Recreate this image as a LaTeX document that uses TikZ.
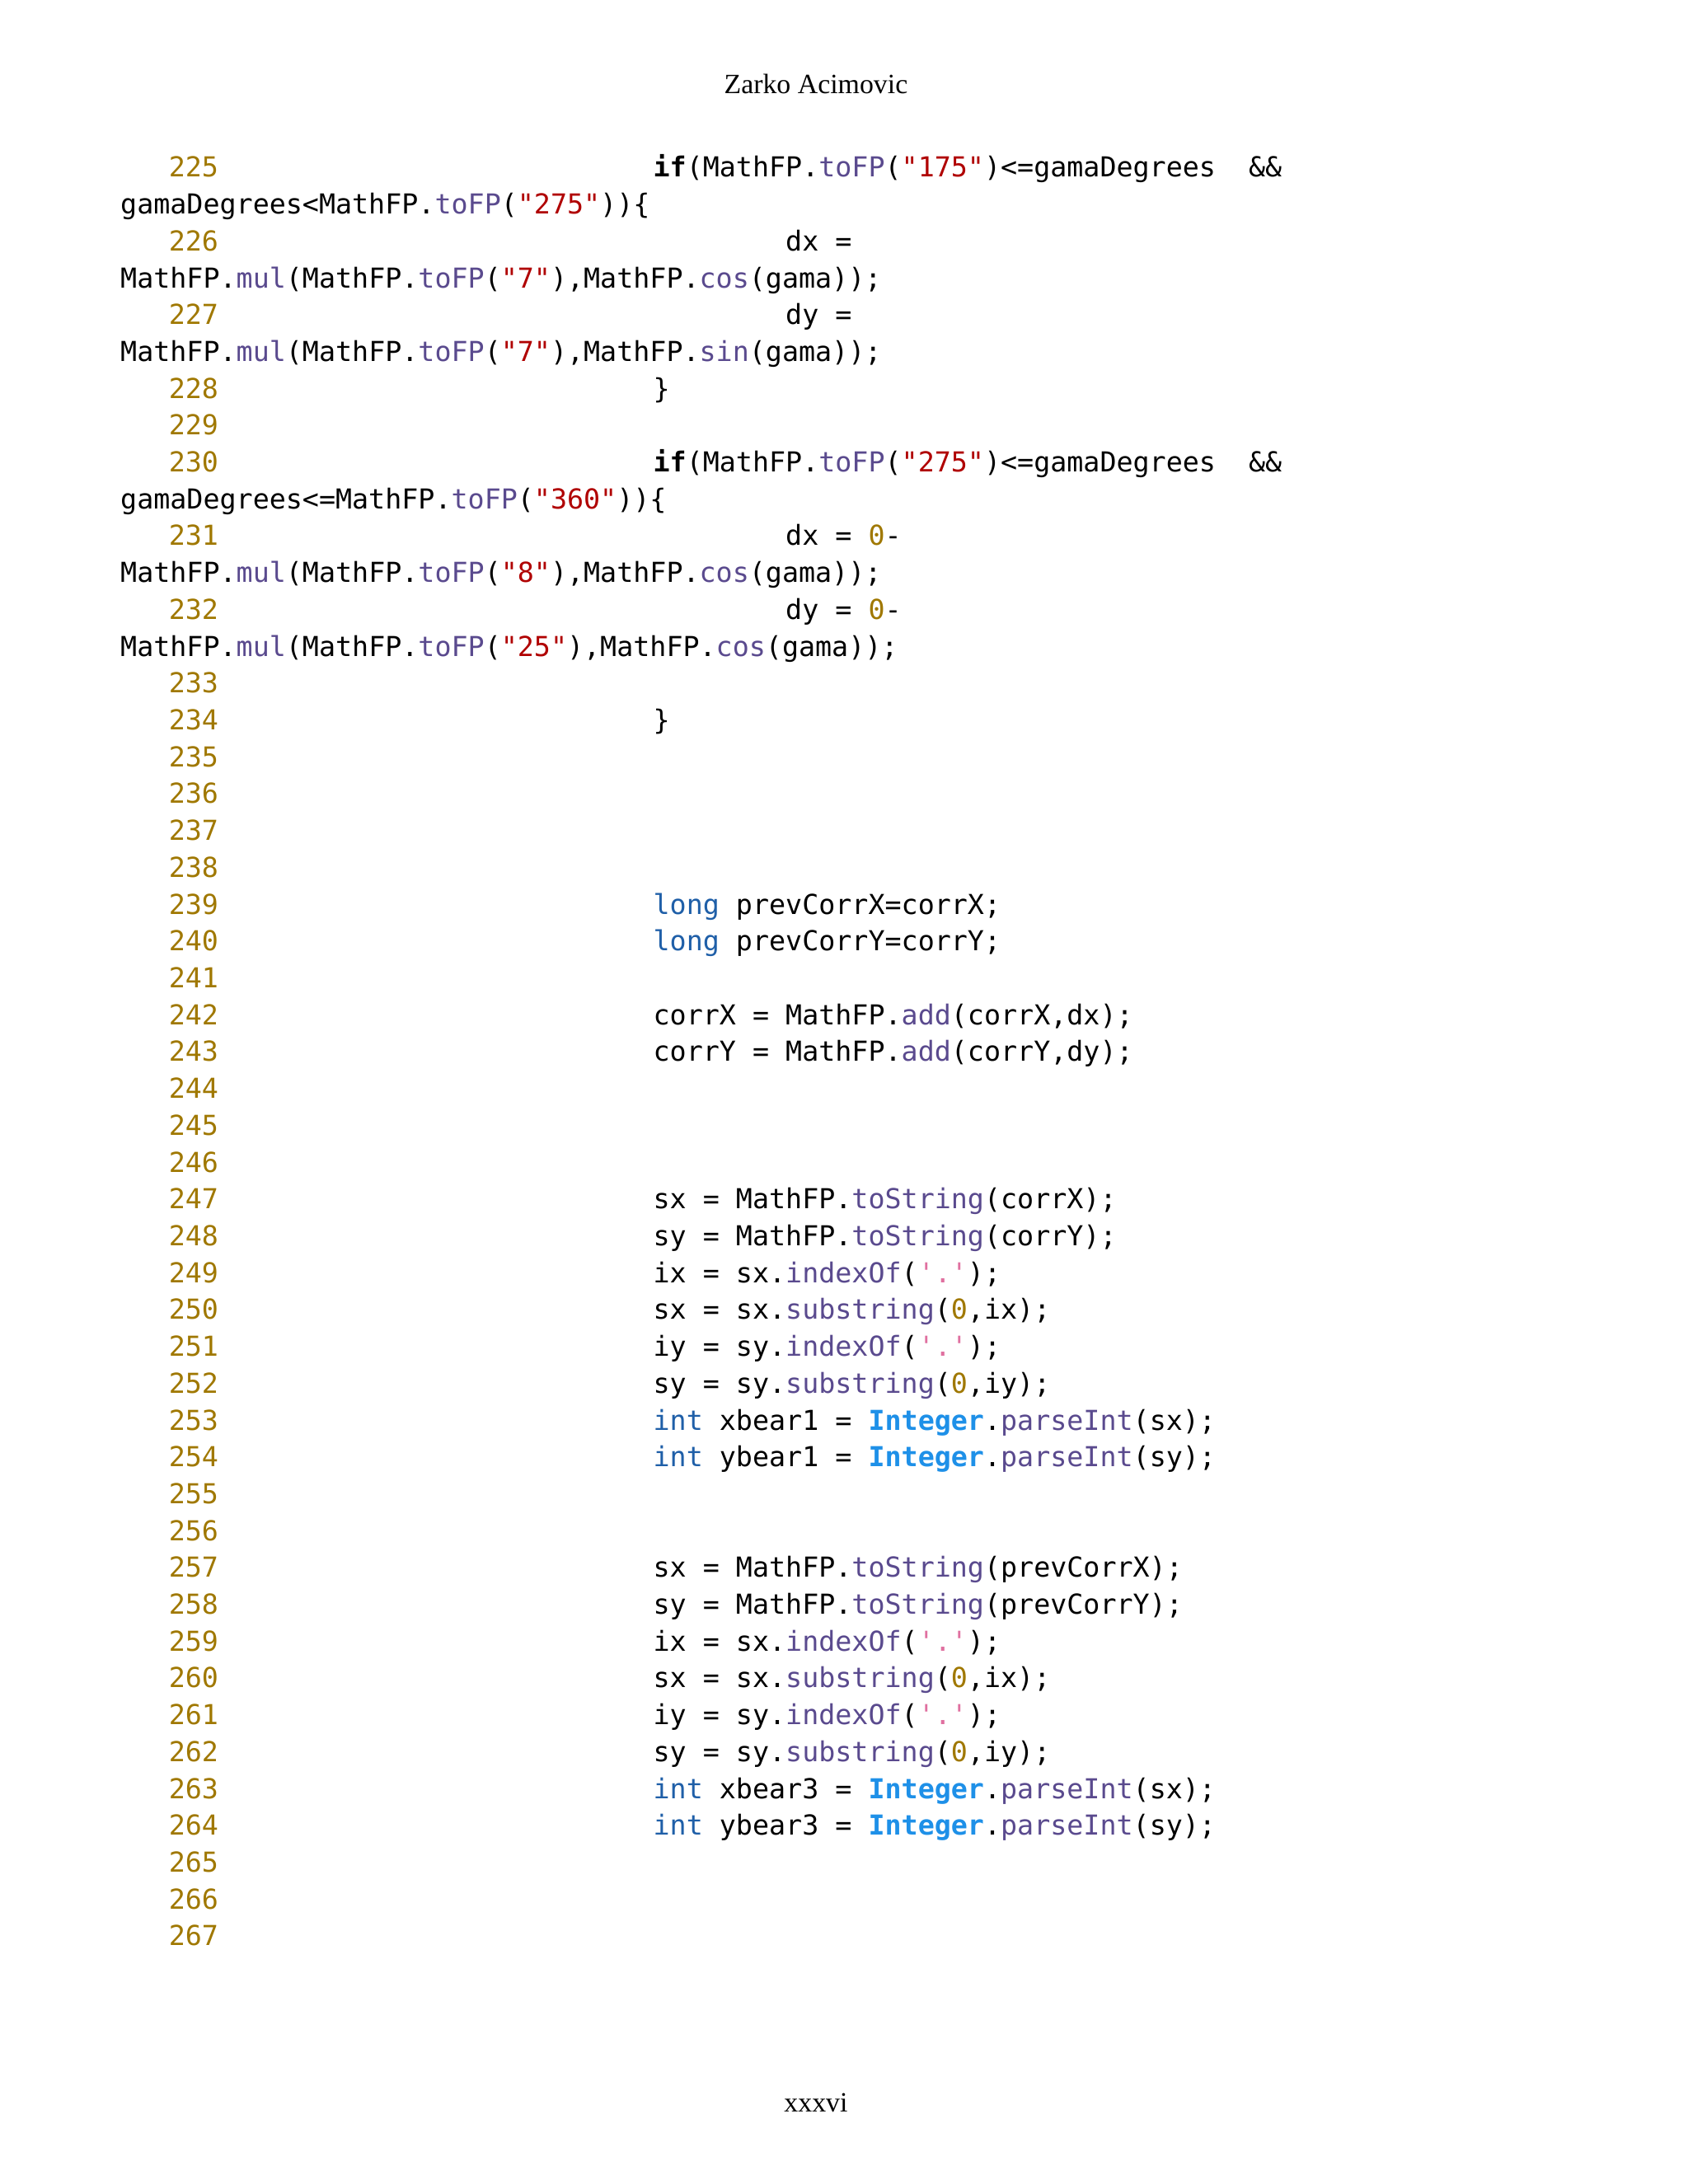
\documentclass[tikz,border=0pt]{standalone}
\usepackage{fontspec}
\setmainfont{Liberation Serif}
\setmonofont{DejaVu Sans Mono}
\definecolor{lnum}{HTML}{A07800}
\definecolor{strc}{HTML}{B00000}
\definecolor{meth}{HTML}{5A4A8E}
\definecolor{kwc}{HTML}{1F5FA8}
\definecolor{intc}{HTML}{1E90E8}
\definecolor{chc}{HTML}{E070A0}
\newcommand\Ms[1]{\textcolor{meth}{#1}}
\newcommand\St[1]{\textcolor{strc}{#1}}
\newcommand\Nm[1]{\textcolor{lnum}{#1}}
\newcommand\Kw[1]{\textcolor{kwc}{#1}}
\newcommand\Ig{\textcolor{intc}{\bfseries Integer}}
\newcommand\Ch{\textcolor{chc}{'.'}}
\tikzset{x=0.5pt,y=-0.5pt,
  code/.style={anchor=base west,inner sep=0pt,font=\ttfamily\fontsize{9.85}{11}\selectfont},
  ln/.style={anchor=base east,inner sep=0pt,text=lnum,font=\ttfamily\fontsize{9.85}{11}\selectfont}}
\newcommand\RowY[1]{127+26.42*#1}
\newcommand\CLine[3]{\node[ln] (n#1) at (157,{\RowY{#1}}) {#2};
  \node[code] (c#1) at (468,{\RowY{#1}}) {#3};}
\newcommand\WLine[2]{\node[code] (w#1) at (86,{\RowY{#1}}) {#2};}
\newcommand\ELine[2]{\node[ln] (n#1) at (157,{\RowY{#1}}) {#2};}
\newcommand\Ind{\hspace*{8\fontcharwd\font`0}}
\begin{document}
\begin{tikzpicture}
\fill[white] (0,0) rectangle (1210,1566);
\useasboundingbox (0,0) rectangle (1210,1566);
\node[font=\fontsize{10}{12}\selectfont] (hdr) at (585,60) {Zarko Acimovic};
\node[font=\fontsize{10}{12}\selectfont] (ftr) at (585,1508) {xxxvi};
\CLine{0}{225}{\textbf{if}(MathFP.\Ms{toFP}(\St{"175"})<=gamaDegrees~~\&\&}
\WLine{1}{gamaDegrees<MathFP.\Ms{toFP}(\St{"275"}))\{}
\CLine{2}{226}{\Ind dx =}
\WLine{3}{MathFP.\Ms{mul}(MathFP.\Ms{toFP}(\St{"7"}),MathFP.\Ms{cos}(gama));}
\CLine{4}{227}{\Ind dy =}
\WLine{5}{MathFP.\Ms{mul}(MathFP.\Ms{toFP}(\St{"7"}),MathFP.\Ms{sin}(gama));}
\CLine{6}{228}{\}}
\ELine{7}{229}
\CLine{8}{230}{\textbf{if}(MathFP.\Ms{toFP}(\St{"275"})<=gamaDegrees~~\&\&}
\WLine{9}{gamaDegrees<=MathFP.\Ms{toFP}(\St{"360"}))\{}
\CLine{10}{231}{\Ind dx = \Nm{0}-}
\WLine{11}{MathFP.\Ms{mul}(MathFP.\Ms{toFP}(\St{"8"}),MathFP.\Ms{cos}(gama));}
\CLine{12}{232}{\Ind dy = \Nm{0}-}
\WLine{13}{MathFP.\Ms{mul}(MathFP.\Ms{toFP}(\St{"25"}),MathFP.\Ms{cos}(gama));}
\ELine{14}{233}
\CLine{15}{234}{\}}
\ELine{16}{235}\ELine{17}{236}\ELine{18}{237}\ELine{19}{238}
\CLine{20}{239}{\Kw{long} prevCorrX=corrX;}
\CLine{21}{240}{\Kw{long} prevCorrY=corrY;}
\ELine{22}{241}
\CLine{23}{242}{corrX = MathFP.\Ms{add}(corrX,dx);}
\CLine{24}{243}{corrY = MathFP.\Ms{add}(corrY,dy);}
\ELine{25}{244}\ELine{26}{245}\ELine{27}{246}
\CLine{28}{247}{sx = MathFP.\Ms{toString}(corrX);}
\CLine{29}{248}{sy = MathFP.\Ms{toString}(corrY);}
\CLine{30}{249}{ix = sx.\Ms{indexOf}(\Ch);}
\CLine{31}{250}{sx = sx.\Ms{substring}(\Nm{0},ix);}
\CLine{32}{251}{iy = sy.\Ms{indexOf}(\Ch);}
\CLine{33}{252}{sy = sy.\Ms{substring}(\Nm{0},iy);}
\CLine{34}{253}{\Kw{int} xbear1 = \Ig.\Ms{parseInt}(sx);}
\CLine{35}{254}{\Kw{int} ybear1 = \Ig.\Ms{parseInt}(sy);}
\ELine{36}{255}\ELine{37}{256}
\CLine{38}{257}{sx = MathFP.\Ms{toString}(prevCorrX);}
\CLine{39}{258}{sy = MathFP.\Ms{toString}(prevCorrY);}
\CLine{40}{259}{ix = sx.\Ms{indexOf}(\Ch);}
\CLine{41}{260}{sx = sx.\Ms{substring}(\Nm{0},ix);}
\CLine{42}{261}{iy = sy.\Ms{indexOf}(\Ch);}
\CLine{43}{262}{sy = sy.\Ms{substring}(\Nm{0},iy);}
\CLine{44}{263}{\Kw{int} xbear3 = \Ig.\Ms{parseInt}(sx);}
\CLine{45}{264}{\Kw{int} ybear3 = \Ig.\Ms{parseInt}(sy);}
\ELine{46}{265}\ELine{47}{266}\ELine{48}{267}
\end{tikzpicture}
\end{document}
